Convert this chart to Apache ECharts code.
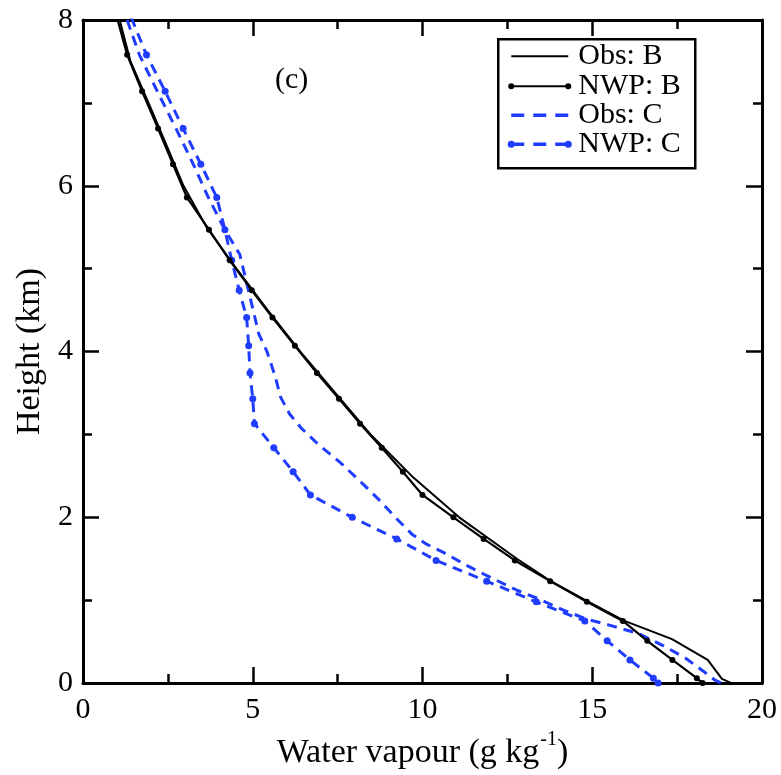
<!DOCTYPE html>
<html>
<head>
<meta charset="utf-8">
<script src="https://cdn.jsdelivr.net/npm/echarts@6/dist/echarts.min.js"></script>
<style>
html,body{margin:0;padding:0;background:#fff;}
#chart{width:781px;height:775px;}
</style>
</head>
<body>
<div id="chart"></div>
<script>
// ---- data (heights in km, water vapour in g/kg) ----
const heightsNWP = [8.03, 7.58, 7.14, 6.69, 6.26, 5.86, 5.47, 5.10, 4.74, 4.41, 4.07, 3.74, 3.43, 3.13, 2.84, 2.55, 2.27, 2.00, 1.74, 1.48, 1.23, 0.98, 0.75, 0.51, 0.28, 0.06, 0.00];
const nwpB = [1.00, 1.30, 1.74, 2.21, 2.65, 3.06, 3.71, 4.32, 4.97, 5.58, 6.24, 6.89, 7.54, 8.16, 8.80, 9.42, 10.00, 10.91, 11.80, 12.72, 13.76, 14.84, 15.90, 16.62, 17.36, 18.08, 18.25];
const nwpC = [1.42, 1.87, 2.42, 2.95, 3.47, 3.94, 4.18, 4.38, 4.60, 4.82, 4.88, 4.92, 5.00, 5.05, 5.62, 6.19, 6.70, 7.93, 9.24, 10.40, 11.89, 13.35, 14.78, 15.44, 16.11, 16.80, 16.94];

const heightsObsB = [8.0, 7.5, 7.0, 6.5, 6.0, 5.5, 5.0, 4.5, 4.0, 3.5, 3.0, 2.5, 2.0, 1.5, 1.24, 1.0, 0.75, 0.53, 0.28, 0.05, 0.0];
const obsB = [1.08, 1.40, 1.93, 2.45, 2.96, 3.64, 4.52, 5.44, 6.40, 7.43, 8.47, 9.68, 11.08, 12.78, 13.74, 14.80, 15.95, 17.35, 18.40, 18.82, 19.10];

const heightsObsC = [8.0, 7.58, 7.13, 6.69, 6.25, 5.87, 5.49, 5.17, 4.69, 4.21, 4.0, 3.7, 3.45, 3.25, 3.08, 2.88, 2.66, 2.42, 2.22, 2.0, 1.8, 1.68, 1.58, 1.42, 1.3, 1.12, 1.02, 0.88, 0.77, 0.7, 0.6, 0.45, 0.3, 0.15, 0.04, 0.0];
const obsC = [1.30, 1.66, 2.20, 2.74, 3.26, 3.68, 4.15, 4.62, 4.90, 5.18, 5.42, 5.66, 5.82, 6.08, 6.42, 6.93, 7.58, 8.20, 8.70, 9.20, 9.68, 10.10, 10.60, 11.30, 11.88, 12.78, 13.40, 14.15, 14.85, 15.50, 16.35, 17.10, 17.75, 18.25, 18.60, 18.80];

const xRange = [0, 20];
const yRange = [0, 8];
const legendNames = ['Obs: B', 'NWP: B', 'Obs: C', 'NWP: C'];
const panelLabel = '(c)';

// ---- styling ----
const FONT = "'Liberation Serif', 'DejaVu Serif', serif";
const BLUE = '#1f3cff';
const pair = (hs, vs) => vs.map((v, i) => [v, hs[i]]);

const chart = echarts.init(document.getElementById('chart'), null, {renderer: 'canvas'});

function axisCommon(showLabels) {
  return {
    axisLine: {show: true, onZero: false, lineStyle: {color: '#000', width: 3}},
    axisTick: {show: true, inside: true, length: 16, lineStyle: {color: '#000', width: 2.5}},
    minorTick: {show: true, splitNumber: 2, length: 9, lineStyle: {color: '#000', width: 2.5}},
    splitLine: {show: false},
    minorSplitLine: {show: false},
    axisLabel: {show: showLabels, color: '#000', fontFamily: FONT, fontSize: 30},
  };
}

const option = {
  backgroundColor: '#fff',
  animation: false,
  grid: {left: 83, right: 19, top: 20, bottom: 86, containLabel: false},
  xAxis: [
    Object.assign({
      type: 'value', min: xRange[0], max: xRange[1], interval: 5, position: 'bottom',
      name: '{n|Water vapour (g kg}{s|-1}{n|)}', nameLocation: 'middle', nameGap: 42,
      nameTextStyle: {
        rich: {
          n: {fontFamily: FONT, fontSize: 34, color: '#000', lineHeight: 40, verticalAlign: 'bottom'},
          s: {fontFamily: FONT, fontSize: 20, color: '#000', lineHeight: 40, verticalAlign: 'top', padding: [0, 0, 0, 1]}
        }
      }
    }, axisCommon(true), {axisLabel: {show: true, color: '#000', fontFamily: FONT, fontSize: 30, margin: 12}}),
    Object.assign({type: 'value', min: xRange[0], max: xRange[1], interval: 5, position: 'top'}, axisCommon(false))
  ],
  yAxis: [
    Object.assign({
      type: 'value', min: yRange[0], max: yRange[1], interval: 2, position: 'left',
      name: 'Height (km)', nameLocation: 'middle', nameGap: 35,
      nameTextStyle: {fontFamily: FONT, fontSize: 34, color: '#000'}
    }, axisCommon(true), {axisLabel: {show: true, color: '#000', fontFamily: FONT, fontSize: 30, margin: 10}}),
    Object.assign({type: 'value', min: yRange[0], max: yRange[1], interval: 2, position: 'right'}, axisCommon(false))
  ],
  series: [
    {
      name: legendNames[0], type: 'line', data: pair(heightsObsB, obsB), clip: true,
      showSymbol: false, symbol: 'none',
      lineStyle: {color: '#000', width: 2}, z: 3
    },
    {
      name: legendNames[1], type: 'line', data: pair(heightsNWP, nwpB), clip: true,
      symbol: 'circle', symbolSize: 6, showAllSymbol: true,
      itemStyle: {color: '#000'},
      lineStyle: {color: '#000', width: 2.2}, z: 4
    },
    {
      name: legendNames[2], type: 'line', data: pair(heightsObsC, obsC), clip: true,
      showSymbol: false, symbol: 'none',
      lineStyle: {color: BLUE, width: 3, type: [10, 7]}, z: 2
    },
    {
      name: legendNames[3], type: 'line', data: pair(heightsNWP, nwpC), clip: true,
      symbol: 'circle', symbolSize: 7, showAllSymbol: true,
      itemStyle: {color: BLUE},
      lineStyle: {color: BLUE, width: 3, type: [10, 7]}, z: 2
    }
  ],
  graphic: [
    {type: 'text', left: 275, top: 65, z: 10,
     style: {text: panelLabel, font: "30px 'Liberation Serif', 'DejaVu Serif', serif", fill: '#000'}},
    {type: 'group', left: 497, top: 38, z: 20, children: [
      {type: 'rect', shape: {x: 0, y: 0, width: 197, height: 129},
       style: {fill: '#fff', stroke: '#000', lineWidth: 2.5}},
      // Obs: B
      {type: 'line', shape: {x1: 13, y1: 17, x2: 70, y2: 17}, style: {stroke: '#000', lineWidth: 2}},
      {type: 'text', style: {x: 80, y: 17, text: legendNames[0], verticalAlign: 'middle', font: "30px 'Liberation Serif', 'DejaVu Serif', serif", fill: '#000'}},
      // NWP: B
      {type: 'line', shape: {x1: 13, y1: 47, x2: 70, y2: 47}, style: {stroke: '#000', lineWidth: 2}},
      {type: 'circle', shape: {cx: 13, cy: 47, r: 3}, style: {fill: '#000'}},
      {type: 'circle', shape: {cx: 70, cy: 47, r: 3}, style: {fill: '#000'}},
      {type: 'text', style: {x: 80, y: 47, text: legendNames[1], verticalAlign: 'middle', font: "30px 'Liberation Serif', 'DejaVu Serif', serif", fill: '#000'}},
      // Obs: C
      {type: 'line', shape: {x1: 13, y1: 76, x2: 70, y2: 76}, style: {stroke: BLUE, lineWidth: 3.5, lineDash: [13, 9]}},
      {type: 'text', style: {x: 80, y: 76, text: legendNames[2], verticalAlign: 'middle', font: "30px 'Liberation Serif', 'DejaVu Serif', serif", fill: '#000'}},
      // NWP: C
      {type: 'line', shape: {x1: 13, y1: 105, x2: 70, y2: 105}, style: {stroke: BLUE, lineWidth: 3.5, lineDash: [13, 9]}},
      {type: 'circle', shape: {cx: 13, cy: 105, r: 3.5}, style: {fill: BLUE}},
      {type: 'circle', shape: {cx: 70, cy: 105, r: 3.5}, style: {fill: BLUE}},
      {type: 'text', style: {x: 80, y: 105, text: legendNames[3], verticalAlign: 'middle', font: "30px 'Liberation Serif', 'DejaVu Serif', serif", fill: '#000'}}
    ]}
  ]
};
chart.setOption(option);
</script>
</body>
</html>
